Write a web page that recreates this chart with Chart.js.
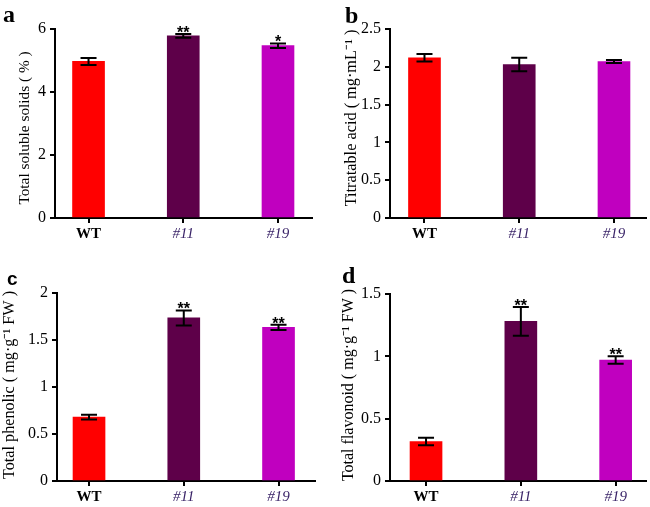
<!DOCTYPE html>
<html>
<head>
<meta charset="utf-8">
<script src="https://cdn.jsdelivr.net/npm/chart.js@4.4.1/dist/chart.umd.min.js"></script>
<style>
  html, body { margin: 0; padding: 0; background: #fff; }
  #wrap { position: relative; width: 650px; height: 507px; }
  canvas { position: absolute; }
</style>
</head>
<body>
<div id="wrap">
  <canvas id="pa" width="325" height="250" style="left:0;top:0"></canvas>
  <canvas id="pb" width="325" height="250" style="left:325px;top:0"></canvas>
  <canvas id="pc" width="325" height="257" style="left:0;top:250px"></canvas>
  <canvas id="pd" width="325" height="257" style="left:325px;top:250px"></canvas>
</div>
<script>
// data
const groups = ['WT', '#11', '#19'];
const barColors = ['#ff0000', '#5e0049', '#c000bf'];

const solids = [4.97, 5.78, 5.47];
const solidsErr = [0.11, 0.06, 0.07];
const solidsSig = ['', '**', '*'];

const acid = [2.12, 2.03, 2.07];
const acidErr = [0.05, 0.09, 0.02];
const acidSig = ['', '', ''];

const phenolic = [0.68, 1.735, 1.635];
const phenolicErr = [0.025, 0.08, 0.028];
const phenolicSig = ['', '**', '**'];

const flavonoid = [0.316, 1.28, 0.97];
const flavonoidErr = [0.03, 0.115, 0.03];
const flavonoidSig = ['', '**', '**'];

const serif = '"Liberation Serif", "Times New Roman", serif';

// error bars, stars, panel letter and y title
const deco = {
    id: 'deco',
    afterDatasetsDraw(chart, args, o) {
        const ctx = chart.ctx, x = chart.scales.x, y = chart.scales.y;
        ctx.save();
        ctx.strokeStyle = '#000';
        ctx.lineWidth = 2;
        o.vals.forEach((v, i) => {
            const px = x.getPixelForValue(i);
            const top = y.getPixelForValue(v + o.err[i]);
            const bot = y.getPixelForValue(v - o.err[i]);
            ctx.beginPath();
            ctx.moveTo(px, top); ctx.lineTo(px, bot);
            ctx.moveTo(px - 8, top); ctx.lineTo(px + 8, top);
            ctx.moveTo(px - 8, bot); ctx.lineTo(px + 8, bot);
            ctx.stroke();
            if (o.sig[i]) {
                ctx.fillStyle = '#000';
                ctx.font = 'bold 16px "Liberation Sans", Arial, sans-serif';
                ctx.textAlign = 'center';
                ctx.textBaseline = 'alphabetic';
                ctx.fillText(o.sig[i], px, top + 4);
            }
        });
        ctx.restore();
    },
    afterDraw(chart, args, o) {
        const ctx = chart.ctx;
        ctx.save();
        ctx.fillStyle = '#000';
        ctx.font = o.letterFont;
        ctx.textBaseline = 'alphabetic';
        ctx.textAlign = 'left';
        ctx.fillText(o.letter, o.letterX, o.letterY);
        ctx.translate(o.titleX, o.titleY);
        ctx.rotate(-Math.PI / 2);
        ctx.font = o.titleSize + 'px ' + serif;
        ctx.textAlign = 'center';
        ctx.textBaseline = 'middle';
        ctx.fillText(o.title, 0, 0);
        ctx.restore();
    }
};

function makePanel(id, vals, box, yMax, yStep, xMin, xMax, deco_) {
    const canvas = document.getElementById(id);
    const W = canvas.width, H = canvas.height;
    return new Chart(canvas, {
        type: 'bar',
        data: {
            datasets: [{
                data: vals.map((v, i) => ({ x: i, y: v })),
                backgroundColor: barColors,
                borderWidth: 0,
                barThickness: 32
            }]
        },
        options: {
            responsive: false,
            animation: false,
            devicePixelRatio: 1,
            layout: { padding: { left: 0, top: box.top, right: W - box.right, bottom: 0 } },
            plugins: { legend: { display: false }, tooltip: { enabled: false }, deco: deco_ },
            scales: {
                x: {
                    type: 'linear',
                    offset: false,
                    min: xMin, max: xMax,
                    afterBuildTicks: s => { s.ticks = groups.map((g, i) => ({ value: i })); },
                    afterFit: s => { s.height = H - box.bottom; },
                    grid: { display: true, offset: false, drawOnChartArea: false, drawTicks: true, tickLength: 5, color: '#000', lineWidth: 2 },
                    border: { color: '#000', width: 2 },
                    ticks: {
                        padding: 2,
                        callback: v => groups[v],
                        color: c => c.index === 0 ? '#000' : '#3a2468',
                        font: c => ({ family: serif, size: 15, style: c.index === 0 ? 'normal' : 'italic', weight: c.index === 0 ? 'bold' : 'normal' })
                    }
                },
                y: {
                    min: 0, max: yMax,
                    afterFit: s => { s.width = box.left; },
                    grid: { display: true, drawOnChartArea: false, drawTicks: true, tickLength: 5, color: '#000', lineWidth: 2 },
                    border: { color: '#000', width: 2 },
                    ticks: { stepSize: yStep, padding: 4, color: '#000', callback: v => String(v), font: { family: serif, size: 16 } }
                }
            }
        },
        plugins: [deco]
    });
}

makePanel('pa', solids, { left: 55, top: 29, right: 312, bottom: 218 }, 6, 2, -0.354, 2.359,
    { vals: solids, err: solidsErr, sig: solidsSig, letter: 'a', letterFont: 'bold 24px ' + serif, letterX: 3, letterY: 22,
      title: 'Total soluble solids ( % )', titleSize: 15.3, titleX: 25, titleY: 128 });

makePanel('pb', acid, { left: 65, top: 29, right: 321, bottom: 218 }, 2.5, 0.5, -0.364, 2.338,
    { vals: acid, err: acidErr, sig: acidSig, letter: 'b', letterFont: 'bold 24px ' + serif, letterX: 20, letterY: 23,
      title: 'Titratable acid ( mg\u00b7mL\u207b\u00b9 )', titleSize: 16.3, titleX: 27, titleY: 118 });

makePanel('pc', phenolic, { left: 57, top: 43, right: 315, bottom: 231 }, 2, 0.5, -0.338, 2.385,
    { vals: phenolic, err: phenolicErr, sig: phenolicSig, letter: 'c', letterFont: 'bold 19px "Liberation Sans", Arial, sans-serif', letterX: 7, letterY: 35,
      title: 'Total phenolic ( mg\u00b7g\u207b\u00b9 FW )', titleSize: 16.2, titleX: 10, titleY: 135 });

makePanel('pd', flavonoid, { left: 65, top: 44, right: 321, bottom: 231 }, 1.5, 0.5, -0.38, 2.32,
    { vals: flavonoid, err: flavonoidErr, sig: flavonoidSig, letter: 'd', letterFont: 'bold 24px ' + serif, letterX: 17, letterY: 33,
      title: 'Total flavonoid ( mg\u00b7g\u207b\u00b9 FW )', titleSize: 16, titleX: 24, titleY: 135 });
</script>
</body>
</html>
